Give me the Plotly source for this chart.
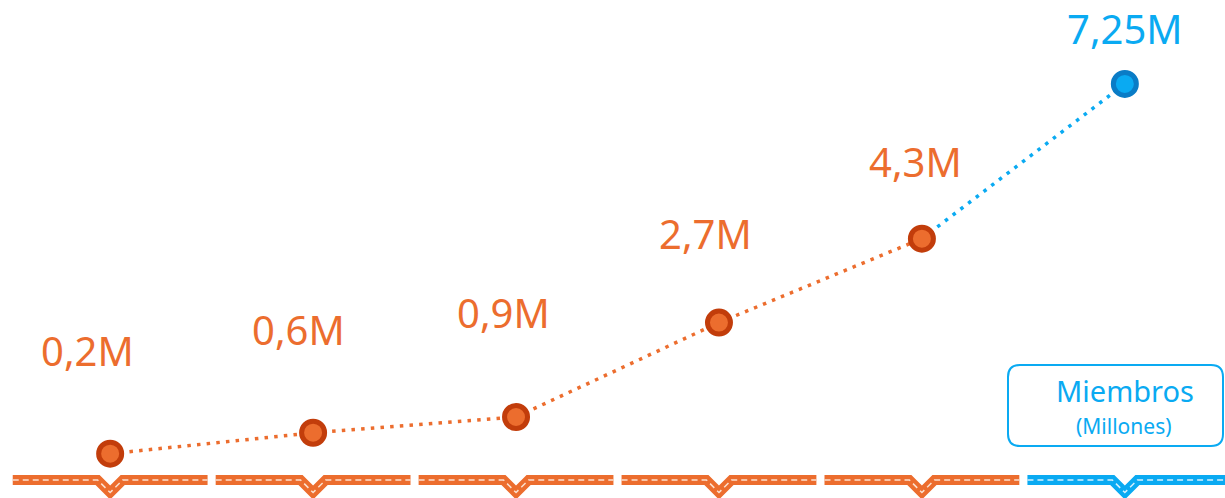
import plotly.graph_objects as go

# Members per stage (millions)
stages = [0, 1, 2, 3, 4, 5]
members = [0.2, 0.6, 0.9, 2.7, 4.3, 7.25]

# Label offsets from each marker, in pixels (right, up)
label_dx = [-23, -15, -13, -13, -6, 0]
label_dy = [103, 103, 104, 89, 77, 55]

ORANGE = "#EC6D2E"
ORANGE_DARK = "#C23D0B"
BLUE = "#0AAAF2"
BLUE_DARK = "#0A7CC6"
ORANGE_LIGHT = "#FBE0CF"
BLUE_LIGHT = "#D3EFFD"

W, H = 1225, 498
X_RANGE = [-0.5428, 5.4935]
Y_RANGE = [-0.6444, 8.850]

fig = go.Figure()

# Road strip under each stage, with a notch pointing at the stage
ROAD_Y = -0.301
NOTCH_Y = -0.540
NOTCH_HALF = 0.062
GAP = 0.02
for i in stages:
    last = i == stages[-1]
    right = i + 0.5 - GAP if not last else X_RANGE[1] + 0.05
    xs = [i - 0.5 + GAP, i - NOTCH_HALF, i, i + NOTCH_HALF, right]
    ys = [ROAD_Y, ROAD_Y, NOTCH_Y, ROAD_Y, ROAD_Y]
    base = BLUE if last else ORANGE
    light = BLUE_LIGHT if last else ORANGE_LIGHT
    fig.add_trace(go.Scatter(x=xs, y=ys, mode="lines",
                             line=dict(color=base, width=10),
                             hoverinfo="skip", showlegend=False))
    fig.add_trace(go.Scatter(x=xs, y=ys, mode="lines",
                             line=dict(color=light, width=1.5, dash="6px,4px"),
                             hoverinfo="skip", showlegend=False))

# Dotted growth line: orange for past stages, blue for the last step
fig.add_trace(go.Scatter(x=stages[:5], y=members[:5], mode="lines",
                         line=dict(color=ORANGE, width=3.5, dash="3.5px,6.2px"),
                         hoverinfo="skip", showlegend=False))
fig.add_trace(go.Scatter(x=stages[4:], y=members[4:], mode="lines",
                         line=dict(color=BLUE, width=3.5, dash="3.5px,6.2px"),
                         hoverinfo="skip", showlegend=False))

# Markers
fig.add_trace(go.Scatter(x=stages[:5], y=members[:5], mode="markers",
                         marker=dict(size=23, color=ORANGE,
                                     line=dict(color=ORANGE_DARK, width=5)),
                         showlegend=False))
fig.add_trace(go.Scatter(x=stages[5:], y=members[5:], mode="markers",
                         marker=dict(size=23, color=BLUE,
                                     line=dict(color=BLUE_DARK, width=5)),
                         showlegend=False))

# Value labels
for i, v in enumerate(members):
    txt = f"{v:g}".replace(".", ",") + "M"
    fig.add_annotation(x=stages[i], y=v, text=txt, showarrow=False,
                       xshift=label_dx[i], yshift=label_dy[i],
                       xanchor="center", yanchor="middle",
                       font=dict(family="Noto Sans", size=40,
                                 color=BLUE if i == 5 else ORANGE))


def to_paper(px, py):
    return px / W, 1 - py / H


def P(px, py):
    a, b = to_paper(px, py)
    return f"{a:.5f},{b:.5f}"


# Legend box with rounded corners
x0, y0, x1, y1, r = 1008, 365, 1223, 446, 12
path = (f"M {P(x0 + r, y0)} L {P(x1 - r, y0)} Q {P(x1, y0)} {P(x1, y0 + r)} "
        f"L {P(x1, y1 - r)} Q {P(x1, y1)} {P(x1 - r, y1)} "
        f"L {P(x0 + r, y1)} Q {P(x0, y1)} {P(x0, y1 - r)} "
        f"L {P(x0, y0 + r)} Q {P(x0, y0)} {P(x0 + r, y0)} Z")
fig.add_shape(type="path", path=path, xref="paper", yref="paper",
              line=dict(color=BLUE, width=2), fillcolor="rgba(0,0,0,0)")

mx, my = to_paper(1125, 390)
fig.add_annotation(x=mx, y=my, xref="paper", yref="paper", text="Miembros",
                   showarrow=False, xanchor="center", yanchor="middle",
                   font=dict(family="Noto Sans", size=29, color=BLUE))
sx, sy = to_paper(1124, 426)
fig.add_annotation(x=sx, y=sy, xref="paper", yref="paper", text="(Millones)",
                   showarrow=False, xanchor="center", yanchor="middle",
                   font=dict(family="Noto Sans", size=21, color=BLUE))

fig.update_layout(
    width=W, height=H,
    margin=dict(l=0, r=0, t=0, b=0),
    paper_bgcolor="white", plot_bgcolor="white",
    xaxis=dict(range=X_RANGE, visible=False, fixedrange=True),
    yaxis=dict(range=Y_RANGE, visible=False, fixedrange=True),
)

fig.write_html("out.html")
